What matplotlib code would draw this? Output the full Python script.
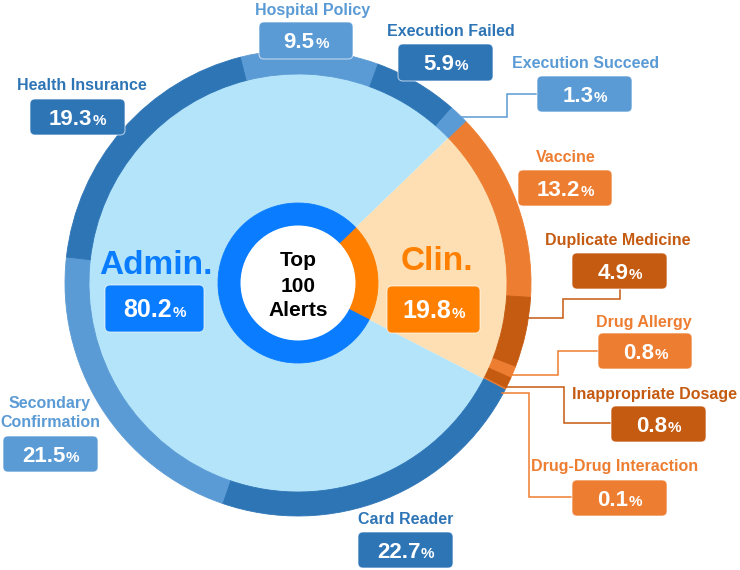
import matplotlib
matplotlib.use("Agg")
import matplotlib.pyplot as plt
from matplotlib.patches import FancyBboxPatch, Circle
import numpy as np

plt.rcParams['font.family'] = ['Liberation Sans', 'DejaVu Sans']
plt.rcParams['font.weight'] = 'bold'

# ---------------- data ----------------
groups = ["Clin.", "Admin."]
group_values = [19.8, 80.2]
group_colors_light = ["#FDDFB3", "#B3E4FA"]
group_colors_strong = ["#FF8000", "#0A7CFF"]

sub_labels = ["Vaccine", "Duplicate Medicine", "Drug Allergy", "Inappropriate Dosage",
              "Drug-Drug Interaction", "Card Reader", "Secondary\nConfirmation",
              "Health Insurance", "Hospital Policy", "Execution Failed", "Execution Succeed"]
sub_values = [13.2, 4.9, 0.8, 0.8, 0.1, 22.7, 21.5, 19.3, 9.5, 5.9, 1.3]
sub_colors = ["#ED7D31", "#C55A11", "#ED7D31", "#C55A11", "#ED7D31",
              "#2E75B6", "#5B9BD5", "#2E75B6", "#5B9BD5", "#2E75B6", "#5B9BD5"]

# ---------------- layout (pixels, y down) ----------------
W, H = 740, 570
CX, CY = 298, 283
R_OUT, RING_W = 233, 24
R_DONUT, DONUT_W = 80, 23
START = 44

# title (x, y) and box (x0, x1, y0, y1) per sub label
sub_layout = {
    "Vaccine": ((566, 157), (518, 612, 170, 206)),
    "Duplicate Medicine": ((618, 240), (572, 667, 253, 289)),
    "Drug Allergy": ((644, 322), (598, 692, 333, 369)),
    "Inappropriate Dosage": ((655, 394), (611, 706, 406, 442)),
    "Drug-Drug Interaction": ((615, 467), (572, 667, 480, 516)),
    "Card Reader": ((406, 519), (358, 453, 532, 568)),
    "Secondary\nConfirmation": ((50, 413), (3, 98, 436, 472)),
    "Health Insurance": ((82, 86), (30, 125, 99, 135)),
    "Hospital Policy": ((313, 10), (259, 353, 22, 59)),
    "Execution Failed": ((451, 32), (398, 493, 44, 81)),
    "Execution Succeed": ((586, 63), (537, 632, 76, 112)),
}
# leader lines: list of pixel points, starting on ring (given only y of ring point)
leaders = {
    "Execution Succeed": (117, [(507, 117), (507, 94), (537, 94)]),
    "Duplicate Medicine": (318, [(563, 318), (563, 299), (620, 299), (620, 289)]),
    "Drug Allergy": (375, [(558, 375), (558, 351), (598, 351)]),
    "Inappropriate Dosage": (387, [(564, 387), (564, 423), (611, 423)]),
    "Drug-Drug Interaction": (393, [(529, 393), (529, 497), (572, 497)]),
}
group_layout = {
    "Clin.": ((437, 262), (387, 480, 286, 333)),
    "Admin.": ((156, 265), (105, 204, 285, 332)),
}

def Y(y):
    return H - y

fig = plt.figure(figsize=(W / 100, H / 100), dpi=100)
ax = fig.add_axes([0, 0, 1, 1])
center = (CX, Y(CY))

# big background pie
wb, _ = ax.pie(group_values, colors=group_colors_light, startangle=START,
               counterclock=False, radius=R_OUT - RING_W + 1, center=center,
               wedgeprops=dict(linewidth=0))
# outer ring
wr, _ = ax.pie(sub_values, colors=sub_colors, startangle=START, counterclock=False,
               radius=R_OUT, center=center,
               wedgeprops=dict(width=RING_W, linewidth=0.6))
for w in wr:
    w.set_edgecolor(w.get_facecolor())
# inner donut
wd, _ = ax.pie(group_values, colors=group_colors_strong, startangle=START,
               counterclock=False, radius=R_DONUT, center=center,
               wedgeprops=dict(width=DONUT_W, linewidth=0.6))
for w in wd:
    w.set_edgecolor(w.get_facecolor())
ax.add_patch(Circle(center, R_DONUT - DONUT_W + 0.5, facecolor="white", edgecolor="none", zorder=3))
ax.text(CX, Y(286), "Top\n100\nAlerts", ha="center", va="center", fontsize=15,
        fontweight="bold", color="black", linespacing=1.4, zorder=4)

ax.set_xlim(0, W)
ax.set_ylim(0, H)
ax.set_aspect("auto")
ax.axis("off")

renderer = fig.canvas.get_renderer()

def value_text(cx, cy, value, fs_num, fs_pct):
    t1 = ax.text(0, 0, f"{value:.1f}", fontsize=fs_num, fontweight="bold", color="white",
                 ha="left", va="baseline", zorder=6)
    t2 = ax.text(0, 0, "%", fontsize=fs_pct, fontweight="bold", color="white",
                 ha="left", va="baseline", zorder=6)
    w1 = t1.get_window_extent(renderer).width
    w2 = t2.get_window_extent(renderer).width
    x0 = cx - (w1 + w2) / 2
    cap = 0.716 * fs_num * 100 / 72
    base = Y(cy + cap / 2)
    t1.set_position((x0, base))
    t2.set_position((x0 + w1 + 0.5, base))

def draw_box(box, color, value, fs_num, fs_pct):
    x0, x1, y0, y1 = box
    p = FancyBboxPatch((x0, Y(y1)), x1 - x0, y1 - y0,
                       boxstyle="round,pad=0,rounding_size=5",
                       facecolor=color, edgecolor=(1, 1, 1, 0.6), linewidth=0.8, zorder=5)
    ax.add_patch(p)
    value_text((x0 + x1) / 2, (y0 + y1) / 2, value, fs_num, fs_pct)

for lab, val, col in zip(sub_labels, sub_values, sub_colors):
    (tx, ty), box = sub_layout[lab]
    ax.text(tx, Y(ty), lab, ha="center", va="center", fontsize=11.5, fontweight="bold",
            color=col, linespacing=1.3, zorder=6)
    draw_box(box, col, val, 16, 11)
    if lab in leaders:
        ry, pts = leaders[lab]
        rx = CX + np.sqrt(R_OUT ** 2 - (ry - CY) ** 2) - 1
        xs = [rx] + [p[0] for p in pts]
        ys = [Y(ry)] + [Y(p[1]) for p in pts]
        ax.plot(xs, ys, color=col, linewidth=1.1, zorder=4, solid_joinstyle="miter")

for g, val, col in zip(groups, group_values, group_colors_strong):
    (tx, ty), box = group_layout[g]
    ax.text(tx, Y(ty), g, ha="center", va="center", fontsize=24, fontweight="bold",
            color=col, zorder=6)
    draw_box(box, col, val, 18, 11)

fig.savefig("out.png", dpi=100)
